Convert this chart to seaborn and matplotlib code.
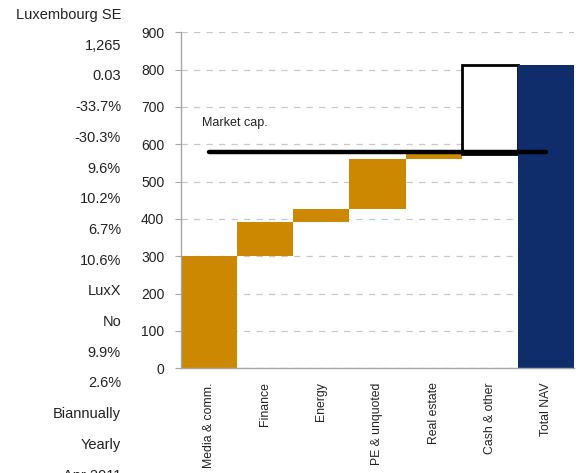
import matplotlib
matplotlib.use("Agg")
import matplotlib.pyplot as plt
import numpy as np
import pandas as pd
import seaborn as sns

# NAV build-up by segment (EUR m)
categories = ["Media & comm.", "Finance", "Energy", "PE & unquoted",
              "Real estate", "Cash & other", "Total NAV"]
contributions = [300, 92, 35, 133, 13, 239, 812]
is_total = [False, False, False, False, False, False, True]
market_cap = 580

# Key-data column shown to the left of the chart
side_labels = ["Luxembourg SE", "1,265", "0.03", "-33.7%", "-30.3%", "9.6%",
               "10.2%", "6.7%", "10.6%", "LuxX", "No", "9.9%", "2.6%",
               "Biannually", "Yearly", "Apr 2011"]

GOLD = "#CC8800"
NAVY = "#0F2D6B"
bar_colors = [GOLD, GOLD, GOLD, GOLD, GOLD, "white", NAVY]
edge_colors = ["none"] * 5 + ["black", "none"]

sns.set_theme(style="white")
plt.rcParams["font.family"] = ["Liberation Sans Narrow", "Liberation Sans", "DejaVu Sans"]

# Floating bars: each segment starts where the previous one ends
bottoms = []
running = 0
for c, tot in zip(contributions, is_total):
    bottoms.append(0 if tot else running)
    running = c if tot else running + c

df = pd.DataFrame({"category": categories, "value": contributions, "base": bottoms})

fig = plt.figure(figsize=(5.8, 4.73), dpi=100)
ax = fig.add_axes([0.312, 0.2213, 0.6777, 0.7104])

sns.barplot(data=df, x="category", y="value", hue="category",
            palette=bar_colors, saturation=1, width=1.0, legend=False,
            ax=ax, zorder=2)
# lift each segment onto the running total
for patch, base, ec in zip(ax.patches, df["base"], edge_colors):
    patch.set_y(base)
    patch.set_edgecolor(ec)
    patch.set_linewidth(2.0 if ec != "none" else 0)

# Market capitalisation line
ax.plot([0, len(categories) - 1], [market_cap, market_cap], color="black",
        lw=3.2, solid_capstyle="round", zorder=4)
ax.text(-0.12, 658, "Market cap.", fontsize=9, color="#222222",
        ha="left", va="center")

ax.set_xlim(-0.5, len(categories) - 0.5)
ax.set_ylim(0, 900)
ax.set_yticks(np.arange(0, 901, 100))
ax.yaxis.grid(True, linestyle=(0, (5, 5)), color="#C8C8C8", lw=0.9, zorder=0)
ax.xaxis.grid(False)
ax.set_axisbelow(True)
ax.set_xlabel("")
ax.set_ylabel("")

for s in ("top", "right"):
    ax.spines[s].set_visible(False)
for s in ("left", "bottom"):
    ax.spines[s].set_color("#A6A6A6")
    ax.spines[s].set_linewidth(1.0)

ax.tick_params(axis="y", left=True, length=4, width=0.8, color="#A6A6A6",
               pad=8, labelsize=10, labelcolor="#222222")
ax.tick_params(axis="x", bottom=False, pad=4, labelsize=8.8, labelcolor="#222222")
plt.setp(ax.get_xticklabels(), rotation=90, ha="center", va="top")

# Left-hand data column
y0, step = 1 - 15 / 473, 30.7 / 473
for i, lab in enumerate(side_labels):
    fig.text(121 / 580, y0 - i * step, lab, ha="right", va="center",
             fontsize=10.5, color="#222222")

fig.savefig("out.png", dpi=100)
